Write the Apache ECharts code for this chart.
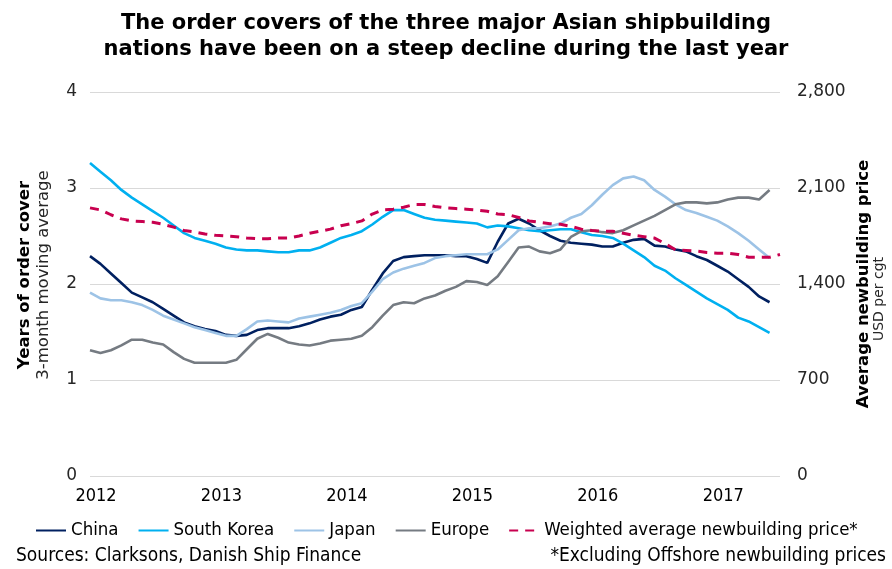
<!DOCTYPE html>
<html>
<head>
<meta charset="utf-8">
<title>Order cover</title>
<script src="https://cdn.jsdelivr.net/npm/echarts@6/dist/echarts.min.js"></script>
<style>
  html, body { margin: 0; padding: 0; background: #fff; }
  #chart { width: 892px; height: 569px; }
</style>
</head>
<body>
<div id="chart"></div>
<script>
// monthly categories, Jan 2012 - Jul 2017
var months = [];
for (var y = 2012; y <= 2017; y++) {
  for (var m = 1; m <= 12; m++) {
    if (y === 2017 && m > 7) break;
    months.push(y + '-' + (m < 10 ? '0' + m : m));
  }
}

// years of order cover, 3-month moving average
var china = [2.29, 2.21, 2.11, 2.01, 1.91, 1.86, 1.81, 1.74, 1.67, 1.60, 1.56, 1.53,
  1.51, 1.47, 1.46, 1.47, 1.52, 1.54, 1.54, 1.54, 1.56, 1.59, 1.63, 1.66,
  1.68, 1.73, 1.76, 1.94, 2.11, 2.24, 2.28, 2.29, 2.30, 2.30, 2.30, 2.29,
  2.29, 2.26, 2.22, 2.44, 2.63, 2.68, 2.63, 2.56, 2.50, 2.45, 2.43, 2.42,
  2.41, 2.39, 2.39, 2.43, 2.46, 2.47, 2.40, 2.39, 2.36, 2.34, 2.29, 2.25,
  2.19, 2.13, 2.05, 1.97, 1.87, 1.81];
var southKorea = [3.26, 3.17, 3.08, 2.98, 2.90, 2.83, 2.76, 2.69, 2.61, 2.53, 2.48, 2.45,
  2.42, 2.38, 2.36, 2.35, 2.35, 2.34, 2.33, 2.33, 2.35, 2.35, 2.38, 2.43,
  2.48, 2.51, 2.55, 2.62, 2.70, 2.77, 2.77, 2.73, 2.69, 2.67, 2.66, 2.65,
  2.64, 2.63, 2.59, 2.61, 2.60, 2.58, 2.56, 2.55, 2.56, 2.57, 2.57, 2.54,
  2.51, 2.50, 2.48, 2.42, 2.35, 2.28, 2.19, 2.14, 2.06, 1.99, 1.92, 1.85,
  1.79, 1.73, 1.65, 1.61, 1.55, 1.49];
var japan = [1.91, 1.85, 1.83, 1.83, 1.81, 1.78, 1.73, 1.67, 1.63, 1.59, 1.55, 1.52,
  1.49, 1.46, 1.46, 1.53, 1.61, 1.62, 1.61, 1.60, 1.64, 1.66, 1.68, 1.70,
  1.73, 1.77, 1.80, 1.92, 2.05, 2.12, 2.16, 2.19, 2.22, 2.27, 2.29, 2.30,
  2.31, 2.31, 2.31, 2.36, 2.46, 2.56, 2.58, 2.58, 2.60, 2.63, 2.69, 2.73,
  2.82, 2.93, 3.03, 3.10, 3.12, 3.08, 2.98, 2.91, 2.83, 2.77, 2.74, 2.70,
  2.66, 2.60, 2.53, 2.45, 2.36, 2.27];
var europe = [1.31, 1.28, 1.31, 1.36, 1.42, 1.42, 1.39, 1.37, 1.29, 1.22, 1.18, 1.18,
  1.18, 1.18, 1.21, 1.32, 1.43, 1.48, 1.44, 1.39, 1.37, 1.36, 1.38, 1.41,
  1.42, 1.43, 1.46, 1.55, 1.67, 1.78, 1.81, 1.80, 1.85, 1.88, 1.93, 1.97,
  2.03, 2.02, 1.99, 2.08, 2.23, 2.38, 2.39, 2.34, 2.32, 2.36, 2.49, 2.55,
  2.56, 2.54, 2.53, 2.56, 2.61, 2.66, 2.71, 2.77, 2.83, 2.85, 2.85, 2.84,
  2.85, 2.88, 2.90, 2.90, 2.88, 2.98];

// weighted average newbuilding price, USD per cgt
var price = [1955, 1940, 1905, 1875, 1860, 1855, 1850, 1835, 1815, 1790, 1780, 1765,
  1755, 1750, 1745, 1735, 1730, 1730, 1735, 1735, 1750, 1770, 1785, 1800,
  1825, 1840, 1860, 1910, 1940, 1945, 1960, 1980, 1980, 1965, 1955, 1950,
  1945, 1940, 1930, 1910, 1905, 1885, 1860, 1850, 1840, 1835, 1820, 1800,
  1790, 1785, 1785, 1770, 1755, 1745, 1735, 1695, 1650, 1645, 1640, 1630,
  1625, 1625, 1615, 1595, 1595, 1595, 1615];

var leftTicks = [0, 1, 2, 3, 4];
var rightTicks = [0, 700, 1400, 2100, 2800];

var chart = echarts.init(document.getElementById('chart'));

var narrow = "'DejaVu Sans Condensed', 'Liberation Sans Narrow', 'Liberation Sans', sans-serif";
var wide = "'DejaVu Sans', Verdana, sans-serif";

function lineSeries(name, data, color, yIndex, dashed) {
  return {
    name: name,
    type: 'line',
    yAxisIndex: yIndex,
    data: data,
    symbol: 'none',
    smooth: false,
    lineStyle: { color: color, width: dashed ? 3 : 2.6, type: dashed ? [9, 7] : 'solid' },
    itemStyle: { color: color }
  };
}

var option = {
  animation: false,
  title: {
    text: 'The order covers of the three major Asian shipbuilding\nnations have been on a steep decline during the last year',
    left: 'center',
    top: 6,
    textStyle: { fontFamily: wide, fontSize: 21, fontWeight: 'bold', color: '#000', lineHeight: 26 }
  },
  legend: {
    left: 30,
    top: 516,
    width: 862,
    itemWidth: 30,
    itemHeight: 3,
    itemGap: 19,
    itemStyle: { opacity: 0 },
    textStyle: { fontFamily: narrow, fontSize: 18.5, color: '#000' },
    data: ['China', 'South Korea', 'Japan', 'Europe', 'Weighted average newbuilding price*']
  },
  grid: { left: 90, right: 112, top: 92, bottom: 93 },
  xAxis: {
    type: 'category',
    data: months,
    boundaryGap: false,
    axisLine: { show: false },
    axisTick: { show: false },
    axisLabel: {
      interval: function (i) { return i % 12 === 0; },
      formatter: function (v) { return v.slice(0, 4); },
      fontFamily: narrow,
      fontSize: 18,
      color: '#000',
      margin: 11,
      padding: [0, 0, 0, 12]
    }
  },
  yAxis: [{
    type: 'value',
    min: leftTicks[0],
    max: leftTicks[leftTicks.length - 1],
    interval: 1,
    axisLine: { show: false },
    axisTick: { show: false },
    axisLabel: { fontFamily: wide, fontSize: 17, color: '#262626', margin: 13 },
    splitLine: { lineStyle: { color: '#d9d9d9', width: 1 } }
  }, {
    type: 'value',
    min: rightTicks[0],
    max: rightTicks[rightTicks.length - 1],
    interval: 700,
    axisLine: { show: false },
    axisTick: { show: false },
    axisLabel: {
      fontFamily: wide, fontSize: 17, color: '#262626', margin: 17,
      formatter: function (v) { return v.toLocaleString('en-US'); }
    },
    splitLine: { show: false }
  }],
  graphic: [
    // left axis title
    { type: 'text', rotation: Math.PI / 2, x: 25, y: 275,
      style: { text: 'Years of order cover', fontFamily: wide, fontSize: 16.5, fontWeight: 'bold', fill: '#000', align: 'center', verticalAlign: 'middle' } },
    { type: 'text', rotation: Math.PI / 2, x: 44, y: 275,
      style: { text: '3-month moving average', fontFamily: wide, fontSize: 16.5, fill: '#262626', align: 'center', verticalAlign: 'middle' } },
    // right axis title
    { type: 'text', rotation: Math.PI / 2, x: 864, y: 284,
      style: { text: 'Average newbuilding price', fontFamily: wide, fontSize: 16.5, fontWeight: 'bold', fill: '#000', align: 'center', verticalAlign: 'middle' } },
    { type: 'text', rotation: Math.PI / 2, x: 879, y: 299,
      style: { text: 'USD per cgt', fontFamily: wide, fontSize: 14, fill: '#262626', align: 'center', verticalAlign: 'middle' } },
    // footer
    { type: 'text', left: 16, top: 547,
      style: { text: 'Sources: Clarksons, Danish Ship Finance', fontFamily: narrow, fontSize: 19, fill: '#000' } },
    { type: 'text', right: 6, top: 547,
      style: { text: '*Excluding Offshore newbuilding prices', fontFamily: narrow, fontSize: 19, fill: '#000' } }
  ],
  series: [
    lineSeries('China', china, '#002060', 0, false),
    lineSeries('South Korea', southKorea, '#00B0F0', 0, false),
    lineSeries('Japan', japan, '#9DC3E6', 0, false),
    lineSeries('Europe', europe, '#757B82', 0, false),
    lineSeries('Weighted average newbuilding price*', price, '#C8004F', 1, true)
  ]
};

chart.setOption(option);
</script>
</body>
</html>
